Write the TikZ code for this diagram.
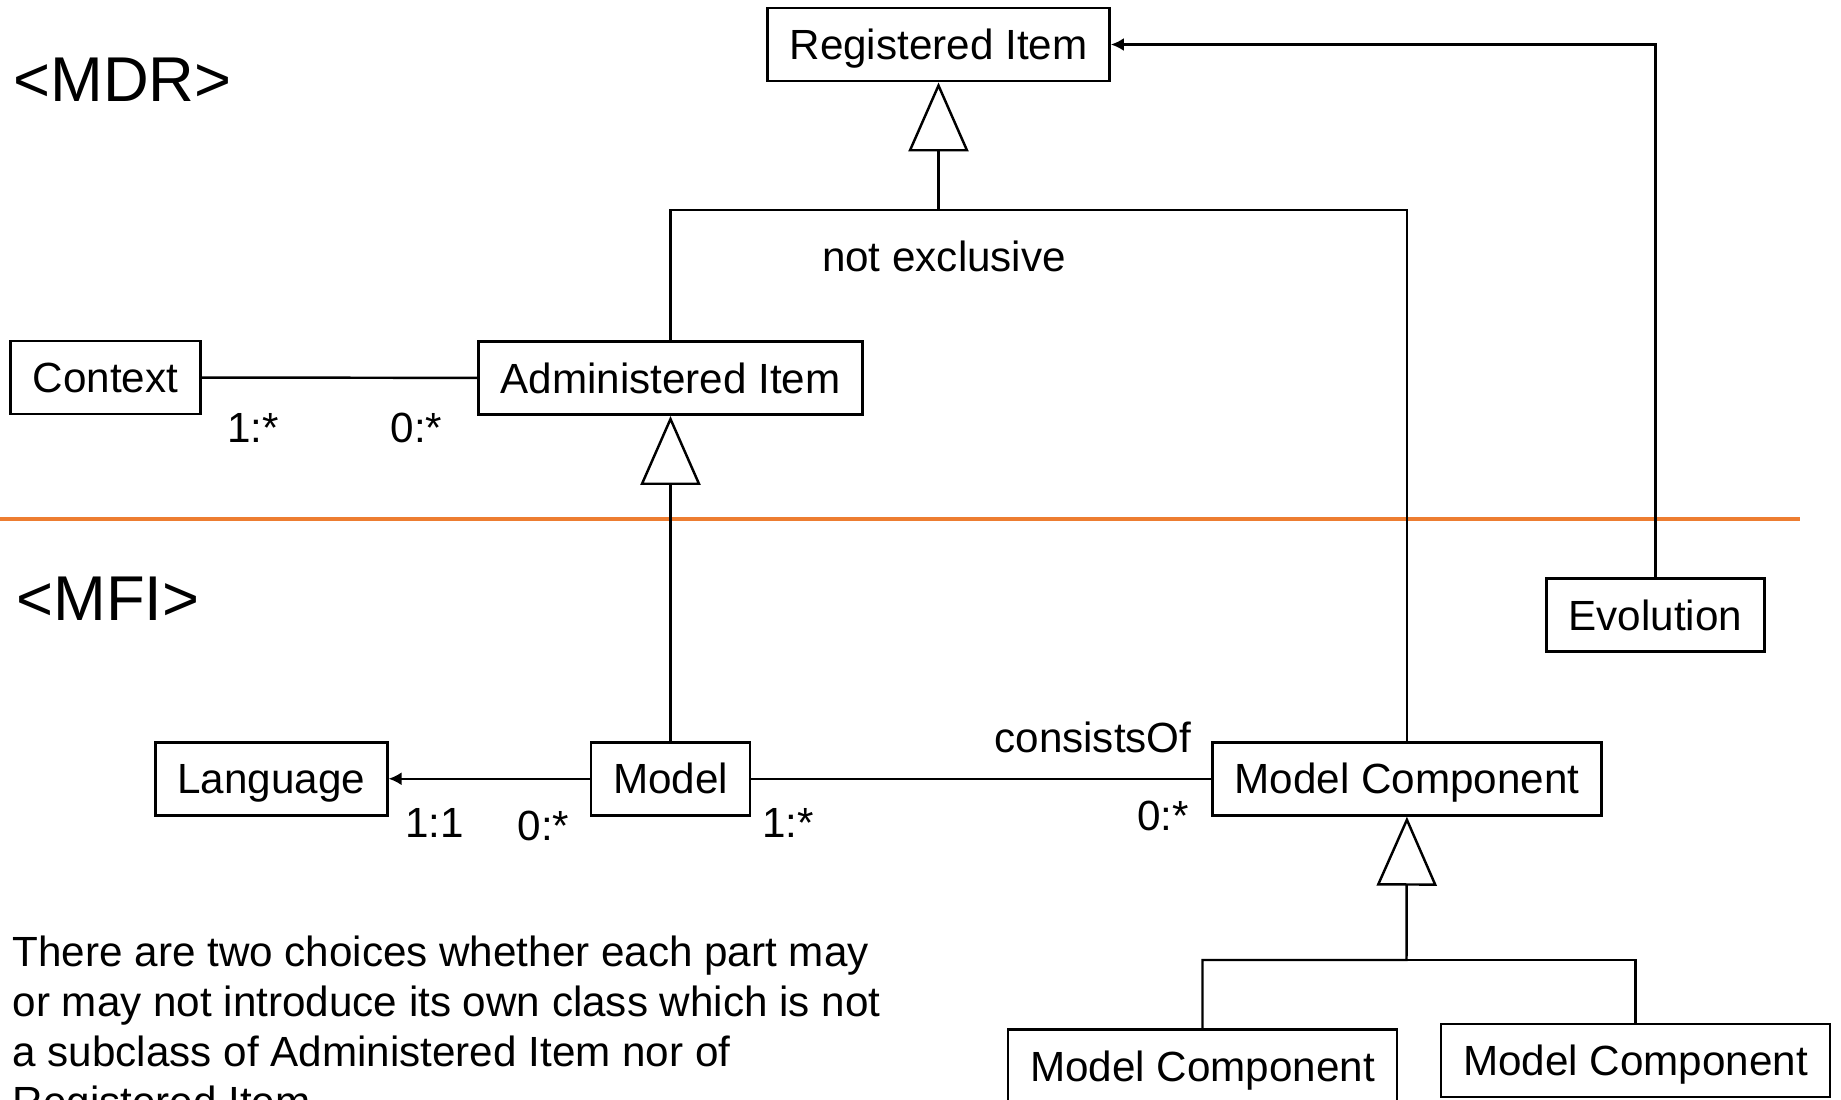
\documentclass[tikz,border=0pt]{standalone}
\usepackage{fontspec}
\setmainfont{Liberation Sans}
\usepackage{tikz}
\usetikzlibrary{arrows.meta}
\definecolor{layerline}{RGB}{237,125,49}

\begin{document}
\begin{tikzpicture}[
		x=0.01cm, y=-0.01cm,
		every node/.style={font=\fontsize{12}{14.2}\selectfont},
		classbox/.style={draw, rectangle, line width=0.8pt, inner xsep=0.22cm, inner ysep=0pt, minimum height=0.73cm, text height=8.6pt, text depth=0pt},
		genline/.style={line width=0.7pt, -{Triangle[open, length=0.69cm, width=0.6cm]}},
		assocline/.style={line width=0.7pt, -{Latex[length=1.3mm, width=1.3mm]}},
		plainline/.style={line width=0.7pt}
		]
		\useasboundingbox (0,0) rectangle (1841,1099);
		
		\coordinate (SepL) at (0,519);
		\coordinate (SepR) at (1800,519);
		\draw[layerline, line width=0.9pt] (SepL) -- (SepR);
		
		\node[font=\fontsize{18}{22}\selectfont](MDR) at (122.5,80){\textless MDR\textgreater};
		\node[font=\fontsize{18}{22}\selectfont](MFI) at (108,599){\textless MFI\textgreater};
		
		\node[classbox](RI) at (938.5,44.5){Registered Item};
		\node[classbox](AI) at (670.5,378){Administered Item};
		\node[classbox](Ctx) at (105.5,377.5){Context};
		\node[classbox, below of = AI, yshift = -3.005cm](Mod){Model};
		\node[classbox, left of = Mod, xshift = -2.99cm](Lang){Language};
		\node[classbox, right of = Mod, xshift = 6.36cm](MC){Model Component};
		\node[classbox](Evo) at (1655.5,615){Evolution};
		\node[classbox](MC1) at (1202.5,1066){Model Component};
		\node[classbox](MC2) at (1635.5,1060.5){Model Component};
		
		\coordinate (J1) at (938.5,210);
		\coordinate (J2) at (1406.5,960);
		
		\draw[genline] (AI.north) |- (J1) -- (RI.south);
		\draw[plainline] (MC.north) |- (J1);
		\node(Excl) at (944,256){not exclusive};
		\draw[genline] (Mod) -- (AI);
		\draw[genline] (MC1.north) |- (J2) -- (MC.south);
		\draw[plainline] (MC2.north) |- (J2);
		\draw[assocline] (Evo.north) |- (RI.east);
		
		\draw[plainline] (Ctx) -- (AI) node [pos=0.187, yshift=-0.5cm]{1:*}
		node [pos=0.78, yshift=-0.5cm]{0:*};
		\draw[assocline] (Mod) -- (Lang) node [pos=0.23, yshift=-0.47cm]{0:*}
		node [pos=0.77, yshift=-0.44cm]{1:1};
		\draw[plainline] (Mod) -- (MC) node [pos=0.08, yshift=-0.44cm]{1:*}
		node [pos=0.743, yshift=0.41cm]{consistsOf}
		node [pos=0.896, yshift=-0.37cm]{0:*};
		
		\node[anchor=north west, inner sep=0pt, align=left](Note) at (12,935){There are two choices whether each part may\\or may not introduce its own class which is not\\a subclass of Administered Item nor of\\Registered Item};
	\end{tikzpicture}
\end{document}
